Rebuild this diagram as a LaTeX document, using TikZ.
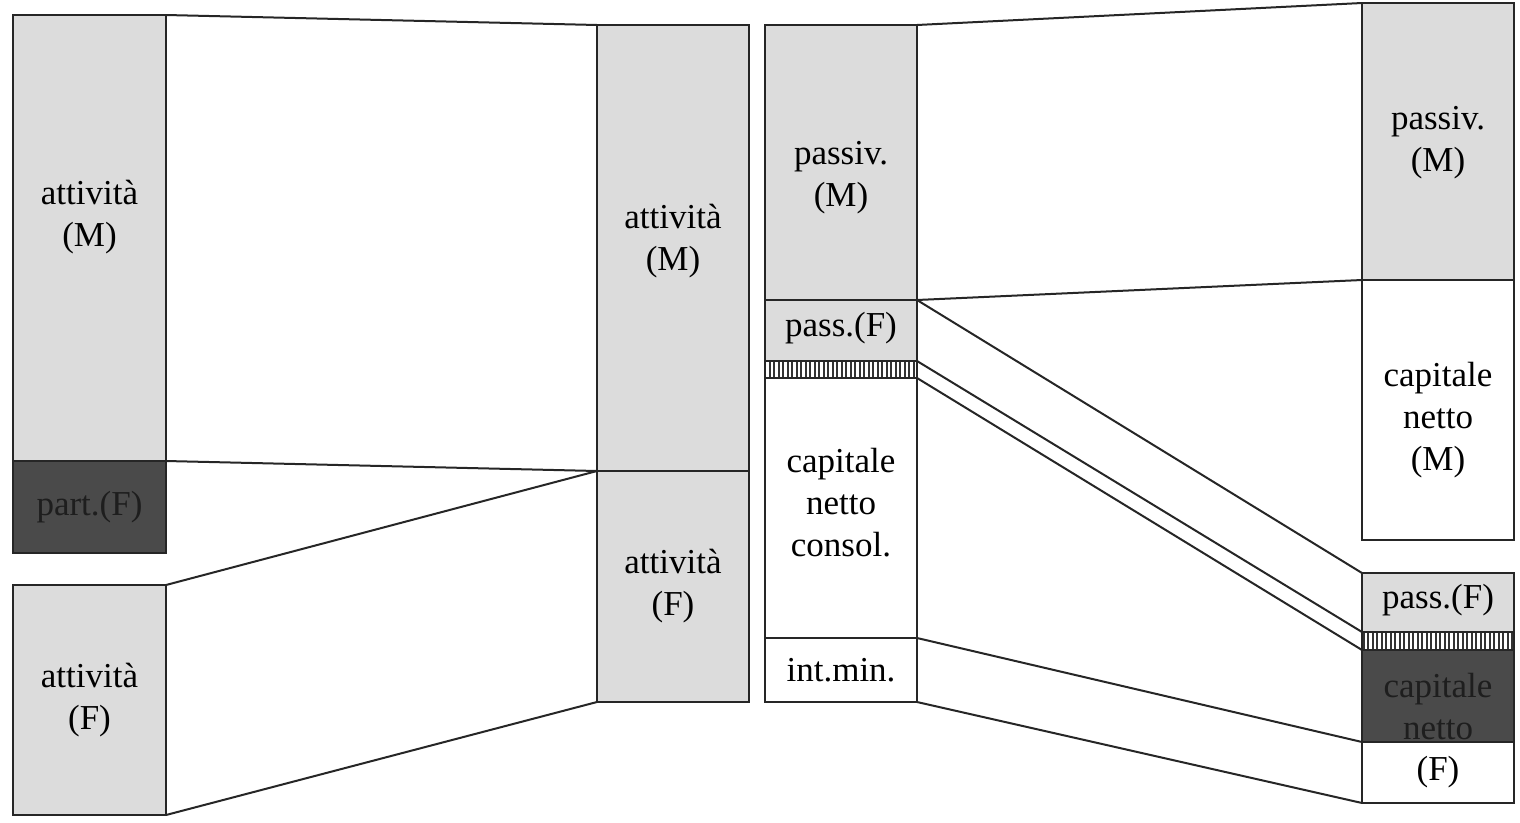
\documentclass[tikz,border=0pt]{standalone}
\usepackage{fontspec}
\setmainfont{Liberation Serif}
\usetikzlibrary{patterns.meta}
\definecolor{lightfill}{HTML}{DCDCDC}
\definecolor{darkfill}{HTML}{4A4A4A}
\definecolor{darktext}{HTML}{1E1E1E}
\begin{document}
\begin{tikzpicture}[x=1pt,y=-1pt,
  box/.style={draw=black!85, line width=2.4pt, inner sep=0pt, outer sep=0pt, anchor=north west},
  light/.style={box, fill=lightfill},
  dark/.style={box, fill=darkfill},
  plain/.style={box, fill=white},
  hatch/.style={box, pattern={Lines[angle=90,distance=4.5pt,line width=2pt]}, pattern color=black!80},
  lbl/.style={align=center, font=\fontsize{35}{42}\selectfont, inner sep=0pt},
  conn/.style={draw=black!85, line width=2pt}]
\useasboundingbox (0,0) rectangle (1520,822);
% left column
\node[light, minimum width=153pt, minimum height=446pt] (L1) at (13,15) {};
\node[dark,  minimum width=153pt, minimum height=92pt]  (L2) at (13,461) {};
\node[light, minimum width=153pt, minimum height=230pt] (L3) at (13,585) {};
% middle column
\node[light, minimum width=152pt, minimum height=446pt] (M1) at (597,25) {};
\node[light, minimum width=152pt, minimum height=231pt] (M2) at (597,471) {};
% third column
\node[light, minimum width=152pt, minimum height=275pt] (T1) at (765,25) {};
\node[light, minimum width=152pt, minimum height=61pt]  (T2) at (765,300) {};
\node[hatch, minimum width=152pt, minimum height=17pt]  (T3) at (765,361) {};
\node[plain, minimum width=152pt, minimum height=260pt] (T4) at (765,378) {};
\node[plain, minimum width=152pt, minimum height=64pt]  (T5) at (765,638) {};
% right column
\node[light, minimum width=152pt, minimum height=277pt] (R1) at (1362,3) {};
\node[plain, minimum width=152pt, minimum height=260pt] (R2) at (1362,280) {};
\node[light, minimum width=152pt, minimum height=59pt]  (R3) at (1362,573) {};
\node[hatch, minimum width=152pt, minimum height=18pt]  (R4) at (1362,632) {};
\node[dark,  minimum width=152pt, minimum height=92pt]  (R5) at (1362,650) {};
\node[plain, minimum width=152pt, minimum height=61pt]  (R6) at (1362,742) {};
% connectors
\draw[conn] (L1.north east) -- (M1.north west);
\draw[conn] (L2.north east) -- (M2.north west);
\draw[conn] (L3.north east) -- (M2.north west);
\draw[conn] (L3.south east) -- (M2.south west);
\draw[conn] (T1.north east) -- (R1.north west);
\draw[conn] (T2.north east) -- (R2.north west);
\draw[conn] (T2.north east) -- (R3.north west);
\draw[conn] (T3.north east) -- (R4.north west);
\draw[conn] (T4.north east) -- (R5.north west);
\draw[conn] (T5.north east) -- (R6.north west);
\draw[conn] (T5.south east) -- (R6.south west);
% labels
\node[lbl]  (tL1) at (89.5,217) {attività\\(M)};
\node[lbl]  (tL2) at (89.5,507) {\color{darktext}part.(F)};
\node[lbl]  (tL3) at (89.5,700) {attività\\(F)};
\node[lbl]  (tM1) at (673,241) {attività\\(M)};
\node[lbl]  (tM2) at (673,586) {attività\\(F)};
\node[lbl]  (tT1) at (841,178) {passiv.\\(M)};
\node[lbl]  (tT2) at (841,328) {pass.(F)};
\node[lbl]  (tT4) at (841,503) {capitale\\netto\\consol.};
\node[lbl]  (tT5) at (841,670) {int.min.};
\node[lbl]  (tR1) at (1438,143) {passiv.\\(M)};
\node[lbl]  (tR2) at (1438,420) {capitale\\netto\\(M)};
\node[lbl]  (tR3) at (1438,600) {pass.(F)};
\node[lbl, text=darktext]  (tR5) at (1438,707) {capitale\\netto};
\node[lbl]  (tR6) at (1438,772) {(F)};
\end{tikzpicture}
\end{document}
